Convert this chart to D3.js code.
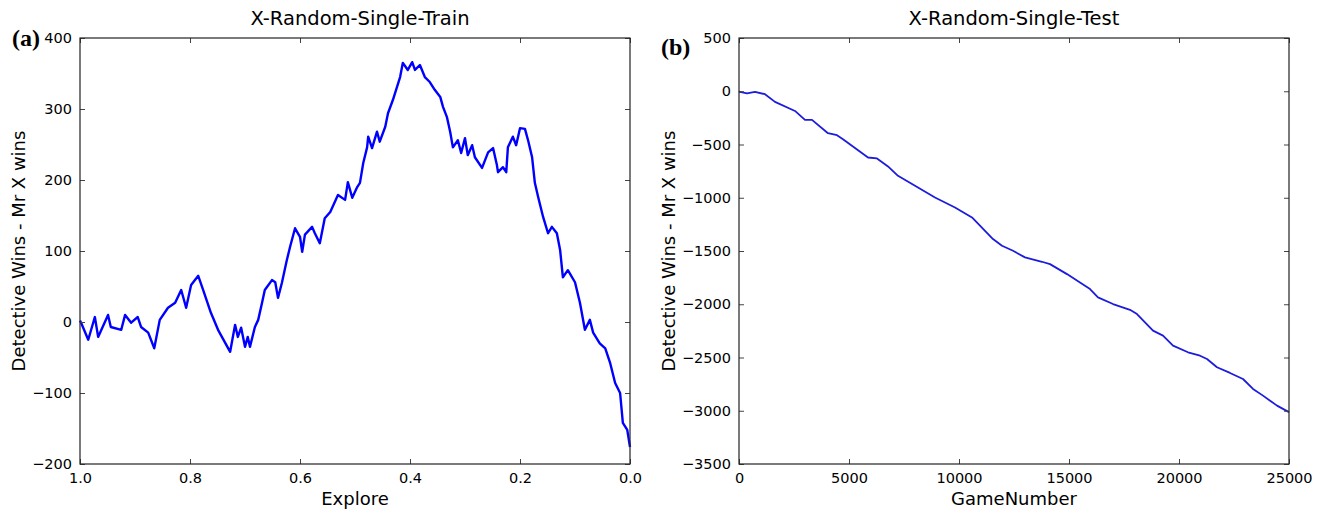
<!DOCTYPE html>
<html>
<head>
<meta charset="utf-8">
<script src="https://cdn.jsdelivr.net/npm/d3@7"></script>
<style>
	body { margin: 0; background: #fff; }
	svg { display: block; }
	.tick-label { font-family: "DejaVu Sans", sans-serif; font-size: 14.5px; fill: #000; }
	.axis-title { font-family: "DejaVu Sans", sans-serif; font-size: 18px; fill: #000; }
	.chart-title { font-family: "DejaVu Sans", sans-serif; font-size: 19.5px; fill: #000; }
	.panel-tag { font-family: "Liberation Serif", "Times New Roman", serif; font-size: 24px; font-weight: bold; fill: #000; }
</style>
</head>
<body>
<div id="chart"></div>
<script>
// panel (a): explore rate vs detective wins minus Mr X wins
var trainExplore = [ 1.0, 0.998, 0.985, 0.973, 0.967, 0.949, 0.944, 0.925, 0.918, 0.907, 0.895, 0.889, 0.876, 0.865, 0.855, 0.840, 0.827, 0.816, 0.807, 0.798, 0.785, 0.776, 0.762, 0.749, 0.727, 0.718, 0.713, 0.707, 0.700, 0.695, 0.691, 0.682, 0.676, 0.669, 0.664, 0.651, 0.645, 0.640, 0.633, 0.624, 0.618, 0.609, 0.600, 0.596, 0.591, 0.578, 0.573, 0.564, 0.555, 0.545, 0.531, 0.518, 0.513, 0.505, 0.496, 0.491, 0.485, 0.478, 0.476, 0.469, 0.460, 0.455, 0.445, 0.440, 0.431, 0.418, 0.413, 0.404, 0.396, 0.391, 0.382, 0.373, 0.364, 0.355, 0.345, 0.340, 0.333, 0.327, 0.322, 0.313, 0.307, 0.300, 0.295, 0.287, 0.282, 0.269, 0.258, 0.249, 0.242, 0.240, 0.231, 0.225, 0.222, 0.213, 0.207, 0.200, 0.191, 0.185, 0.178, 0.173, 0.167, 0.158, 0.149, 0.142, 0.133, 0.127, 0.122, 0.113, 0.100, 0.091, 0.082, 0.073, 0.067, 0.055, 0.045, 0.036, 0.027, 0.018, 0.013, 0.005, 0.0 ];
var trainWins = [ 2, -1, -25, 7, -21, 10, -7, -11, 10, -1, 7, -7, -15, -37, 3, 20, 27, 45, 20, 52, 65, 45, 13, -11, -42, -4, -21, -8, -35, -21, -35, -7, 3, 27, 45, 59, 56, 34, 55, 87, 106, 132, 120, 99, 123, 134, 125, 111, 146, 155, 179, 172, 197, 175, 190, 196, 224, 246, 261, 245, 268, 254, 275, 294, 313, 345, 365, 355, 366, 355, 362, 345, 338, 327, 317, 303, 289, 268, 246, 256, 238, 259, 235, 249, 232, 217, 239, 245, 221, 211, 218, 211, 246, 261, 249, 273, 272, 255, 232, 196, 176, 148, 125, 134, 125, 101, 63, 73, 56, 27, -11, 3, -15, -30, -37, -58, -86, -100, -142, -152, -176 ];

// panel (b): game number vs detective wins minus Mr X wins
var testGames = [ 0, 45, 364, 727, 1182, 1636, 2545, 3000, 3318, 4045, 4455, 4727, 5864, 6273, 6773, 7227, 8136, 8909, 9818, 10591, 11545, 11955, 12455, 13000, 13773, 14136, 14909, 15500, 15955, 16318, 17000, 17773, 18091, 18818, 19273, 19727, 20409, 20955, 21273, 21727, 22318, 22909, 23364, 23818, 24455, 24955, 25000 ];
var testWins = [ 0, -6, -19, -6, -28, -100, -185, -269, -269, -394, -413, -450, -622, -631, -706, -794, -904, -997, -1091, -1185, -1388, -1451, -1498, -1560, -1601, -1623, -1717, -1795, -1857, -1936, -1998, -2052, -2092, -2248, -2295, -2389, -2451, -2483, -2514, -2592, -2645, -2702, -2795, -2858, -2952, -3008, -3015 ];

// tick values
var trainXTicks = [ 1.0, 0.8, 0.6, 0.4, 0.2, 0.0 ],
	trainYTicks = [ -200, -100, 0, 100, 200, 300, 400 ],
	testXTicks = [ 0, 5000, 10000, 15000, 20000, 25000 ],
	testYTicks = [ -3500, -3000, -2500, -2000, -1500, -1000, -500, 0, 500 ];

var width = 1327,
	height = 513;

var svg = d3.select( "#chart" ).append( "svg" )
	.attr( "width", width )
	.attr( "height", height );

// draws one matplotlib-style panel
function drawPanel( opts ) {
	var x = d3.scaleLinear().domain( opts.xDomain ).range( [ opts.left, opts.right ] ),
		y = d3.scaleLinear().domain( opts.yDomain ).range( [ opts.bottom, opts.top ] ),
		tickLen = 5;

	var g = svg.append( "g" );

	// line first, frame on top
	var line = d3.line()
		.x( function ( d ) { return x( d[ 0 ] ); } )
		.y( function ( d ) { return y( d[ 1 ] ); } );

	g.append( "path" )
		.datum( d3.zip( opts.xs, opts.ys ) )
		.attr( "fill", "none" )
		.attr( "stroke", opts.color )
		.attr( "stroke-width", opts.lineWidth )
		.attr( "stroke-linejoin", "round" )
		.attr( "d", line );

	// axes with inward ticks, on all four sides
	var bottomAxis = d3.axisBottom( x ).tickValues( opts.xTicks ).tickSize( -tickLen ).tickPadding( 9 ).tickFormat( opts.xFormat ),
		topAxis = d3.axisTop( x ).tickValues( opts.xTicks ).tickSize( -tickLen ).tickFormat( "" ),
		leftAxis = d3.axisLeft( y ).tickValues( opts.yTicks ).tickSize( -tickLen ).tickPadding( 8 ).tickFormat( d3.format( "d" ) ),
		rightAxis = d3.axisRight( y ).tickValues( opts.yTicks ).tickSize( -tickLen ).tickFormat( "" );

	var gb = g.append( "g" ).attr( "transform", "translate(0," + opts.bottom + ")" ).call( bottomAxis ),
		gt = g.append( "g" ).attr( "transform", "translate(0," + opts.top + ")" ).call( topAxis ),
		gl = g.append( "g" ).attr( "transform", "translate(" + opts.left + ",0)" ).call( leftAxis ),
		gr = g.append( "g" ).attr( "transform", "translate(" + opts.right + ",0)" ).call( rightAxis );

	[ gb, gt, gl, gr ].forEach( function ( a ) {
		a.select( ".domain" ).remove();
		a.selectAll( ".tick line" ).attr( "stroke", "#444" );
		a.selectAll( ".tick text" ).attr( "class", "tick-label" ).attr( "font-size", null ).attr( "font-family", null );
	} );

	// frame
	g.append( "rect" )
		.attr( "x", opts.left )
		.attr( "y", opts.top )
		.attr( "width", opts.right - opts.left )
		.attr( "height", opts.bottom - opts.top )
		.attr( "fill", "none" )
		.attr( "stroke", "#222" )
		.attr( "stroke-width", 1.2 );

	// titles
	g.append( "text" )
		.attr( "class", "chart-title" )
		.attr( "x", ( opts.left + opts.right ) / 2 + opts.titleShift )
		.attr( "y", 25 )
		.attr( "text-anchor", "middle" )
		.text( opts.title );

	g.append( "text" )
		.attr( "class", "axis-title" )
		.attr( "x", ( opts.left + opts.right ) / 2 )
		.attr( "y", 505 )
		.attr( "text-anchor", "middle" )
		.text( opts.xLabel );

	g.append( "text" )
		.attr( "class", "axis-title" )
		.attr( "transform", "translate(" + opts.yLabelX + "," + ( opts.top + opts.bottom ) / 2 + ") rotate(-90)" )
		.attr( "text-anchor", "middle" )
		.text( "Detective Wins - Mr X wins" );

	g.append( "text" )
		.attr( "class", "panel-tag" )
		.attr( "x", opts.tagX )
		.attr( "y", opts.tagY )
		.text( opts.tag );
}

drawPanel( {
	left: 80, right: 630, top: 38, bottom: 464,
	xDomain: [ 1.0, 0.0 ], yDomain: [ -200, 400 ],
	xTicks: trainXTicks, yTicks: trainYTicks,
	xFormat: d3.format( ".1f" ),
	xs: trainExplore, ys: trainWins,
	color: "#0000ff", lineWidth: 2.4,
	title: "X-Random-Single-Train", titleShift: 5, xLabel: "Explore",
	yLabelX: 25, tag: "(a)", tagX: 12, tagY: 46
} );

drawPanel( {
	left: 739, right: 1289, top: 38, bottom: 464,
	xDomain: [ 0, 25000 ], yDomain: [ -3500, 500 ],
	xTicks: testXTicks, yTicks: testYTicks,
	xFormat: d3.format( "d" ),
	xs: testGames, ys: testWins,
	color: "#1c1cdc", lineWidth: 1.8,
	title: "X-Random-Single-Test", titleShift: 0, xLabel: "GameNumber",
	yLabelX: 675, tag: "(b)", tagX: 661, tagY: 55
} );
</script>
</body>
</html>
